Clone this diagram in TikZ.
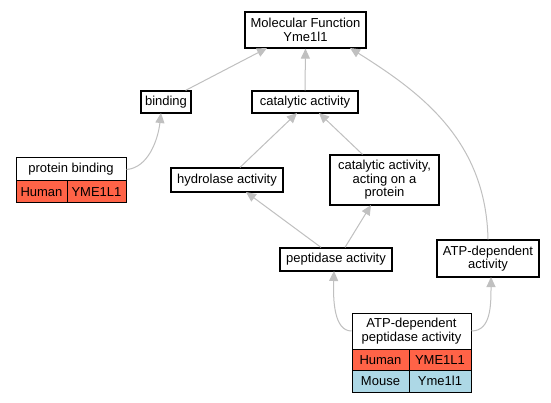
\documentclass[tikz,border=0pt]{standalone}
\usepackage{fontspec}
\setmainfont{Liberation Sans}
\usetikzlibrary{arrows.meta}
\definecolor{edgegray}{RGB}{192,192,192}
\definecolor{humanred}{RGB}{255,99,71}
\definecolor{mouseblue}{RGB}{173,216,230}
\tikzset{
  term/.style={draw=black, line width=1.2pt, fill=white, align=center, inner sep=0pt,
    font=\fontsize{13}{13.5}\selectfont},
  cell/.style={draw=black, line width=1pt, inner sep=0pt, font=\fontsize{13}{13.5}\selectfont},
  human/.style={cell, fill=humanred},
  mouse/.style={cell, fill=mouseblue},
  edge/.style={draw=edgegray, line width=1pt, -{Triangle[length=10pt,width=9pt]}},
}
\begin{document}
\begin{tikzpicture}[x=1pt,y=-1pt]
\useasboundingbox[fill=white] (0,0) rectangle (551,403);
% nodes
\node[term, minimum width=121pt, minimum height=36pt] (mf) at (305.5,30) {Molecular Function\\Yme1l1};
\node[term, minimum width=50pt, minimum height=22pt] (binding) at (166,102) {binding};
\node[term, minimum width=106pt, minimum height=22pt] (cat) at (305,102) {catalytic activity};
\node[term, line width=1pt, minimum width=110pt, minimum height=23pt] (pb) at (71,169.5) {protein binding};
\node[human, minimum width=51pt, minimum height=22pt] (pbh) at (41.5,192) {Human};
\node[human, minimum width=59pt, minimum height=22pt] (pbg) at (96.5,192) {YME1L1};
\node[term, minimum width=112pt, minimum height=24pt] (hyd) at (227,180) {hydrolase activity};
\node[term, minimum width=109pt, minimum height=50pt] (cap) at (384.5,180) {catalytic activity,\\acting on a\\protein};
\node[term, minimum width=112pt, minimum height=23pt] (pep) at (336,259.5) {peptidase activity};
\node[term, minimum width=102pt, minimum height=37pt] (atp) at (488,258.5) {ATP-dependent\\activity};
\node[term, line width=1pt, minimum width=119pt, minimum height=36pt] (ap) at (411.5,331) {ATP-dependent\\peptidase activity};
\node[human, minimum width=57pt, minimum height=21.5pt] (aph) at (380.5,359.75) {Human};
\node[human, minimum width=62pt, minimum height=21.5pt] (apg) at (440,359.75) {YME1L1};
\node[mouse, minimum width=57pt, minimum height=21.5pt] (apm) at (380.5,381.25) {Mouse};
\node[mouse, minimum width=62pt, minimum height=21.5pt] (apmg) at (440,381.25) {Yme1l1};
% edge end points
\coordinate (mfL) at (267,48);
\coordinate (mfR) at (350,48);
\coordinate (bindB) at (161,113);
\coordinate (catL) at (297,113);
\coordinate (catR) at (319,113);
\coordinate (hydB) at (246,192);
\coordinate (capB) at (371,205);
\coordinate (pepB) at (334,271);
\coordinate (atpB) at (491,277);
% edges
\draw[edge] (binding.north east) ++(-6,0) -- (mfL);
\draw[edge] (cat.north) -- (mf.south);
\draw[edge] (atp.north) .. controls (486,140) and (420,92) .. (mfR);
\draw[edge] (pb.east) .. controls (148,168) and (158,140) .. (bindB);
\draw[edge] (hyd.north) ++(13,0) -- (catL);
\draw[edge] (cap.north) ++(-22,0) -- (catR);
\draw[edge] (pep.north) ++(-15,0) -- (hydB);
\draw[edge] (pep.north) ++(9,0) -- (capB);
\draw[edge] (ap.west) .. controls (334,331) and (333,300) .. (pepB);
\draw[edge] (ap.east) .. controls (491,331) and (491,305) .. (atpB);
\end{tikzpicture}
\end{document}
